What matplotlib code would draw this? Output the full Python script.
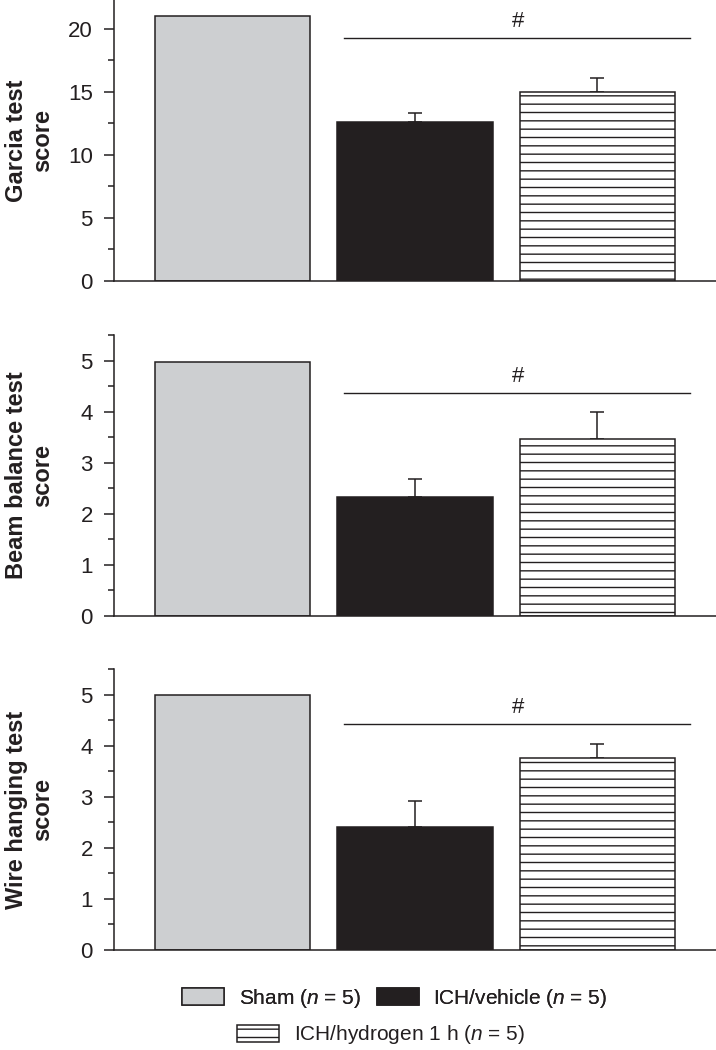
import matplotlib
matplotlib.use("Agg")
import matplotlib.pyplot as plt
from matplotlib.patches import Patch
from matplotlib.ticker import MultipleLocator

plt.rcParams['font.family'] = ['Liberation Sans', 'DejaVu Sans']
plt.rcParams['mathtext.fontset'] = 'custom'
plt.rcParams['mathtext.it'] = 'Liberation Sans:italic'
plt.rcParams['mathtext.rm'] = 'Liberation Sans'
plt.rcParams['hatch.linewidth'] = 1.0
plt.rcParams['hatch.color'] = '#231f20'

# ---- data ----
groups = ["Sham", "ICH/vehicle", "ICH/hydrogen 1 h"]
legend_labels = ["Sham ($n$ = 5)", "ICH/vehicle ($n$ = 5)", "ICH/hydrogen 1 h ($n$ = 5)"]
panel_labels = ["Garcia test\nscore", "Beam balance test\nscore", "Wire hanging test\nscore"]

garcia_means = [21.0, 12.6, 15.0]
garcia_err = [0.0, 0.7, 1.1]
beam_means = [4.98, 2.32, 3.46]
beam_err = [0.0, 0.37, 0.53]
wire_means = [5.0, 2.40, 3.76]
wire_err = [0.0, 0.51, 0.27]

sig_y = [19.25, 4.37, 4.42]
sig_text_y = [20.6, 4.69, 4.74]
ylims = [22.3, 5.5, 5.5]
major_steps = [5, 1, 1]
minor_steps = [2.5, 0.5, 0.5]

means_all = [garcia_means, beam_means, wire_means]
errs_all = [garcia_err, beam_err, wire_err]

# ---- styles ----
ink = '#231f20'
fills = ['#cdcfd1', ink, 'white']
hatches = [None, None, '--']

W, H = 716, 1050
fig = plt.figure(figsize=(W / 100, H / 100), dpi=100)

ax_left = 114 / W
ax_w = (W - 114) / W
ax_h = 281 / H
bottoms_px = [281, 616, 950]

x = list(range(len(groups)))

for i in range(3):
    ax = fig.add_axes([ax_left, 1 - bottoms_px[i] / H, ax_w, ax_h])
    means = means_all[i]
    errs = errs_all[i]
    for j in range(3):
        ax.bar(x[j], means[j], width=0.85, color=fills[j], edgecolor=ink,
               linewidth=1.1, hatch=hatches[j], zorder=2)
    ax.errorbar(x[1:], means[1:], yerr=[[0] * 2, errs[1:]], fmt='none',
                ecolor=ink, elinewidth=1.1, capsize=4.7, capthick=1.1, zorder=1)
    ax.plot([0.61, 2.51], [sig_y[i], sig_y[i]], color=ink, lw=1.0)
    ax.text(1.564, sig_text_y[i], '#', ha='center', va='center', fontsize=16, color=ink)

    ax.set_xlim(-0.65, 2.65)
    ax.set_ylim(0, ylims[i])
    ax.yaxis.set_major_locator(MultipleLocator(major_steps[i]))
    ax.yaxis.set_minor_locator(MultipleLocator(minor_steps[i]))
    ax.set_xticks([])
    for s in ['top', 'right']:
        ax.spines[s].set_visible(False)
    for s in ['left', 'bottom']:
        ax.spines[s].set_linewidth(1.1)
        ax.spines[s].set_color(ink)
    ax.tick_params(axis='y', which='major', length=7.2, width=1.1, color=ink,
                   labelsize=16, labelcolor=ink, pad=8)
    ax.tick_params(axis='y', which='minor', length=4.3, width=1.1, color=ink)
    ax.set_ylabel(panel_labels[i], fontsize=17, fontweight='bold', color=ink,
                  linespacing=1.15)
    ax.yaxis.set_label_coords(-0.1, 0.5)

handles = [Patch(facecolor=fills[j], edgecolor=ink, linewidth=1.1, hatch=hatches[j])
           for j in range(3)]

leg1 = fig.legend(handles[:2], legend_labels[:2], loc='center', ncol=2,
                  bbox_to_anchor=(395 / W, 1 - 998 / H), frameon=False,
                  fontsize=15, handlelength=2.0, handleheight=0.9,
                  handletextpad=0.7, columnspacing=0.8, borderpad=0, labelcolor=ink)
fig.add_artist(leg1)
leg2 = fig.legend(handles[2:], legend_labels[2:], loc='center',
                  bbox_to_anchor=(381 / W, 1 - 1035 / H), frameon=False,
                  fontsize=15, handlelength=2.0, handleheight=0.9,
                  handletextpad=0.7, borderpad=0, labelcolor=ink)

fig.savefig('out.png', dpi=100)
